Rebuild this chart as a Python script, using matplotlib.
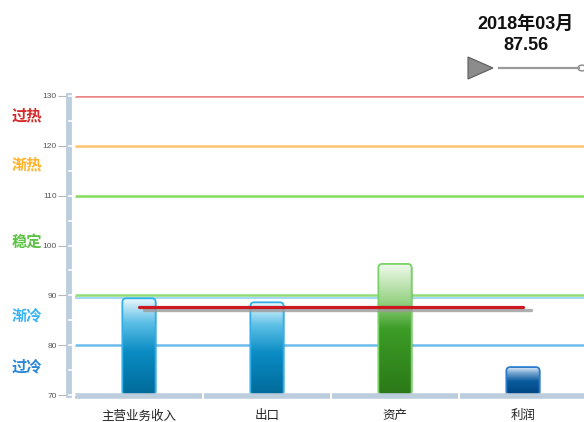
import numpy as np
import matplotlib
matplotlib.use("Agg")
import matplotlib.pyplot as plt
import matplotlib.transforms as mtransforms
from matplotlib.colors import LinearSegmentedColormap
from matplotlib.patches import FancyBboxPatch, Polygon, Circle
from matplotlib.lines import Line2D

# DATA
categories = ["主营业务收入", "出口", "资产", "利润"]
values = [89.4, 88.6, 96.3, 75.6]
avg_value = 87.56
period = "2018年03月"

thresholds = [130, 120, 110, 90, 80]
threshold_colors = ["#e98585", "#ffc46e", "#84da5e", "#8fdc78", "#6cbcec"]

zone_names = ["过热", "渐热", "稳定", "渐冷", "过冷"]
zone_pos = [126.2, 116.2, 100.7, 86.0, 75.8]
zone_colors = ["#d62a2a", "#ffb22a", "#5cc444", "#3ab4f2", "#2a86d6"]

y_ticks = [70, 80, 90, 100, 110, 120, 130]

FONT = ["Liberation Sans", "Noto Sans CJK SC", "DejaVu Sans"]
plt.rcParams["font.family"] = FONT

# gradient colour maps, index 0 = bottom of bar, 1 = top
cmaps = {
    "blue": LinearSegmentedColormap.from_list(
        "b", [(0, "#016a98"), (0.45, "#0a8cc4"), (0.75, "#5cbfe6"), (1, "#eef9fe")]),
    "green": LinearSegmentedColormap.from_list(
        "g", [(0, "#2b7818"), (0.5, "#3c9c26"), (0.72, "#9ad488"), (1, "#f2faef")]),
    "dark": LinearSegmentedColormap.from_list(
        "d", [(0, "#00447f"), (0.5, "#0a5c9e"), (0.8, "#7aa8d2"), (1, "#e4eef8")]),
}
edges = {"blue": "#2fb0ec", "green": "#76d364", "dark": "#2b7ccc"}


def bar_style(v):
    if v < 80:
        return "dark"
    if v < 90:
        return "blue"
    return "green"


fig = plt.figure(figsize=(5.84, 4.22), dpi=100)
ax = fig.add_axes([75 / 584, 1 - 395 / 422, 512 / 584, 299 / 422])
ax.set_xlim(-0.5, 3.5)
ax.set_ylim(70, 130)

for s in ["top", "right", "bottom", "left"]:
    ax.spines[s].set_visible(False)

# threshold lines
for t, c in zip(thresholds, threshold_colors):
    ax.axhline(t, color=c, lw=1.8, zorder=1)
ax.axhline(89.5, color="#92d2f4", lw=1.2, zorder=1)

# bars
bw = 0.26
grad = np.linspace(0, 1, 256).reshape(-1, 1)
for i, v in enumerate(values):
    st = bar_style(v)
    x0 = i - bw / 2
    # shadow
    sh = FancyBboxPatch((x0 + 0.012, 70), bw, v - 70 - 0.4,
                        boxstyle="round,pad=0,rounding_size=0.03",
                        mutation_aspect=26, fc="#000000", ec="none",
                        alpha=0.15, zorder=2)
    ax.add_patch(sh)
    box = FancyBboxPatch((x0, 70), bw, v - 70,
                         boxstyle="round,pad=0,rounding_size=0.03",
                         mutation_aspect=26, fc="none", ec=edges[st],
                         lw=1.3, zorder=4)
    ax.add_patch(box)
    im = ax.imshow(grad, cmap=cmaps[st], origin="lower", aspect="auto",
                   extent=(x0, x0 + bw, 70, v), zorder=3)
    im.set_clip_path(box)

# average line with shadow
ax.plot([0.04, 3.06], [avg_value - 0.6, avg_value - 0.6], color="#9a9a9a",
        lw=2.4, alpha=0.8, solid_capstyle="round", zorder=5)
ax.plot([0, 3], [avg_value, avg_value], color="#cc1620", lw=2.3,
        solid_capstyle="round", zorder=6)

# y axis ticks
ax.set_yticks(y_ticks)
ax.tick_params(axis="y", length=8, width=0.8, color="#b8b8b8", pad=1,
               labelsize=6, labelcolor="#555555", direction="out")
ax.spines["left"].set_visible(True)
ax.spines["left"].set_position(("outward", 4))
ax.spines["left"].set_color("#bccddd")
ax.spines["left"].set_linewidth(4.2)
for t in np.arange(70, 131, 5):
    ax.plot([-0.5 - 0.047, -0.5 - 0.0], [t, t], color="white", lw=1.2,
            clip_on=False, zorder=7)

# x axis bar with breaks
ax.set_xticks(range(len(categories)))
ax.set_xticklabels(categories, fontsize=9, color="#222222")
ax.tick_params(axis="x", length=0, pad=11)
ax.plot([-0.5, 3.5], [69.7, 69.7], color="#bccddd", lw=4.0, clip_on=False,
        zorder=6, solid_capstyle="butt")
for b in [0.5, 1.5, 2.5]:
    ax.plot([b, b], [69.1, 70.3], color="white", lw=1.5, clip_on=False, zorder=7)

# zone labels on the left
zone_tr = mtransforms.blended_transform_factory(fig.transFigure, ax.transData)
for name, p, c in zip(zone_names, zone_pos, zone_colors):
    ax.text(12 / 584, p, name, transform=zone_tr, fontsize=11,
            fontweight="bold", color=c, va="center", ha="left",
            family=["Noto Sans CJK SC"])

# period and value at top right
fig.text(526 / 584, 1 - 24 / 422, period, fontsize=13, fontweight="bold",
         ha="center", va="center", color="#111111")
fig.text(526 / 584, 1 - 46 / 422, f"{avg_value:.2f}", fontsize=13,
         fontweight="bold", ha="center", va="center", color="#111111")

# play button and slider
tri = Polygon([[468 / 584, 1 - 57 / 422], [468 / 584, 1 - 79 / 422],
               [493 / 584, 1 - 68 / 422]], closed=True, fc="#8c8c8c",
              ec="#5a5a5a", lw=0.8, transform=fig.transFigure)
fig.patches.append(tri)
fig.lines.append(Line2D([499 / 584, 579 / 584], [1 - 68 / 422, 1 - 68 / 422],
                        color="#9a9a9a", lw=1.6, transform=fig.transFigure))
fig.patches.append(Circle((582 / 584, 1 - 68 / 422), 4 / 584, fc="white",
                          ec="#888888", lw=1.0, transform=fig.transFigure))

plt.savefig("out.png", dpi=100)
